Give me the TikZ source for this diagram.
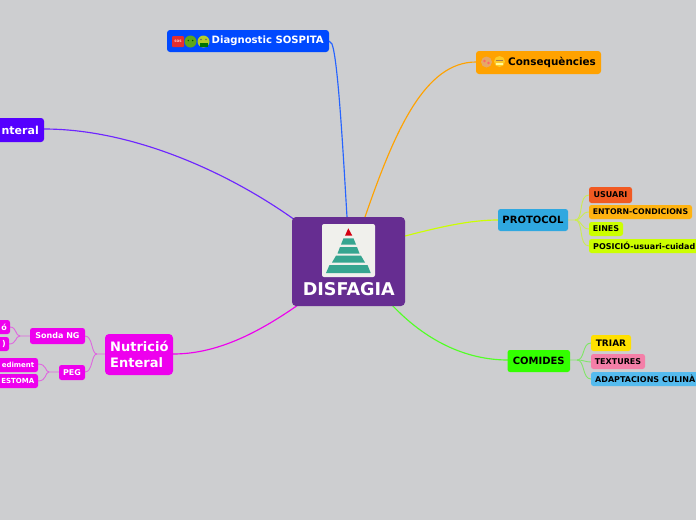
\documentclass[tikz,border=0pt]{standalone}
\usepackage{fontspec}
\setmainfont{DejaVu Sans}
\definecolor{bg}{HTML}{CDCED0}
\definecolor{purp}{HTML}{662D91}
\definecolor{diag}{HTML}{0049FF}
\definecolor{cons}{HTML}{FFA200}
\definecolor{viol}{HTML}{5500FF}
\definecolor{prot}{HTML}{2FA8E0}
\definecolor{lime}{HTML}{CCFF00}
\definecolor{grn}{HTML}{33FF00}
\definecolor{mag}{HTML}{EE00EE}
\definecolor{usu}{HTML}{F15A22}
\definecolor{ento}{HTML}{FFB310}
\definecolor{tria}{HTML}{FFE000}
\definecolor{text}{HTML}{F47FA8}
\definecolor{adap}{HTML}{55BBEE}
\definecolor{teal}{HTML}{36A590}
\definecolor{paper}{HTML}{F0F0EC}
\tikzset{
 x=1pt,y=-1pt,
 link/.style={line width=1.15pt},
 sublime/.style={line width=.9pt,draw=lime!60!bg},
 subgrn/.style={line width=.9pt,draw=grn!50!bg},
 submag/.style={line width=.9pt,draw=mag!50!bg},
}
\newcommand{\bxn}[7]{% name, left, top, right, bottom, colour, text
 \path[fill=#6,rounded corners=2.5pt] (#2,#3) rectangle (#4,#5);
 \node[inner sep=0pt] (#1) at ({(#2+#4)/2},{(#3+#5)/2}) {#7};
}
\begin{document}
\begin{tikzpicture}
\useasboundingbox (0,0) rectangle (696,520);
\clip (0,0) rectangle (696,520);
\fill[bg] (0,0) rectangle (696,520);
% anchors
\coordinate (cT1) at (347,217);
\coordinate (cT2) at (365,217);
\coordinate (cL) at (295,220);
\coordinate (cR) at (405,236);
\coordinate (cBR) at (392,305);
\coordinate (cBL) at (298,305);
\coordinate (dE) at (329,41);
\coordinate (coE) at (476,62);
\coordinate (pE) at (44,129);
\coordinate (prE) at (498,220);
\coordinate (coM) at (508,360);
\coordinate (nE) at (173,354);
% main links
\draw[link,diag!85!white] (cT1) .. controls (343,150) and (338,60) .. (332,44) -- (dE);
\draw[link,cons] (cT2) .. controls (395,130) and (425,62) .. (coE);
\draw[link,viol!85!white] (cL) .. controls (225,170) and (130,129) .. (pE);
\draw[link,lime] (cR) .. controls (440,227) and (470,220) .. (prE);
\draw[link,grn!85!white] (cBR) .. controls (425,340) and (465,360) .. (coM);
\draw[link,mag] (cBL) .. controls (255,335) and (215,354) .. (nE);
% protocol subs
\coordinate (pR) at (568,220);
\coordinate (pJ) at (575,220);
\draw[sublime] (pR) -- (pJ) .. controls (584,220) and (578,195) .. (589,195);
\draw[sublime] (pJ) .. controls (582,220) and (581,212) .. (589,212);
\draw[sublime] (pJ) .. controls (582,220) and (581,229) .. (589,229);
\draw[sublime] (pJ) .. controls (584,220) and (578,246) .. (589,246);
% comides subs
\coordinate (cR2) at (570,360);
\coordinate (cJ) at (577,360);
\draw[subgrn] (cR2) -- (cJ) .. controls (585,360) and (582,343) .. (591,343);
\draw[subgrn] (cJ) .. controls (584,360) and (585,362) .. (591,362);
\draw[subgrn] (cJ) .. controls (585,360) and (582,379) .. (591,379);
% nutricio subs
\draw[submag] (105,354) -- (97,354) .. controls (91,354) and (93,336) .. (85,336);
\draw[submag] (97,354) .. controls (91,354) and (93,372) .. (85,372);
\draw[submag] (30,336) -- (20,336) .. controls (15,336) and (17,327) .. (10,327);
\draw[submag] (20,336) .. controls (15,336) and (17,344) .. (9,344);
\draw[submag] (59,372) -- (49,372) .. controls (45,372) and (47,364) .. (38,364);
\draw[submag] (49,372) .. controls (45,372) and (47,381) .. (38,381);
% central
\path[fill=purp,rounded corners=4pt] (292,217) rectangle (405,306);
\node[inner sep=0pt,text=white,font=\bfseries\fontsize{17.6}{20}\selectfont] (core) at (348.8,289) {DISFAGIA};
\path[fill=paper,rounded corners=2pt] (322,224) rectangle (375,277);
\fill[red!70!purple!90!black] (348.3,228.3) -- (352.3,235.7) -- (345,235.7) -- cycle;
\fill[teal] (343.5,238.3) -- (353.5,238.3) -- (356,244.5) -- (341,244.5) -- cycle;
\fill[teal] (340,247) -- (357,247) -- (359.5,253.5) -- (337.5,253.5) -- cycle;
\fill[teal] (336,255.7) -- (361,255.7) -- (365,262.5) -- (332,262.5) -- cycle;
\fill[teal] (329.5,265) -- (367.5,265) -- (370.7,273) -- (326,273) -- cycle;
% first level
\path[fill=diag,rounded corners=3pt] (167,30) rectangle (329,52);
\node[inner sep=0pt,text=white,font=\bfseries\fontsize{10.1}{12}\selectfont,anchor=west] (diagn) at (211.5,41) {Diagnostic SOSPITA};
\path[fill=red!80!white!90!black,rounded corners=1pt] (172,36) rectangle (184,47);
\node[inner sep=0pt,text=white!85!red,font=\bfseries\fontsize{3.2}{4}\selectfont] (sos) at (178,41.5) {SOS};
\fill[green!45!black!70!yellow!90!white] (190.5,41.5) circle (6);
\fill[green!35!black] (188.3,40.5) circle (.8) (192.7,40.5) circle (.8);
\fill[yellow!75!green!90!black] (203.5,41.5) circle (6);
\fill[green!45!black] (199.5,43) rectangle (207.5,46.5);
\fill[black!60] (201,39.5) circle (.8) (206,39.5) circle (.8);
\path[fill=cons,rounded corners=3pt] (476,51) rectangle (601,74);
\node[inner sep=0pt,text=black,font=\bfseries\fontsize{10.4}{12}\selectfont,anchor=west] (conse) at (508,62.5) {Consequències};
\fill[orange!55!white!90!black] (486.5,62) circle (5.5);
\fill[red!60!white] (484.5,61) circle (1.3) (488.5,63) circle (1.3);
\fill[yellow!55!orange!85!white] (499.5,61.5) circle (5.5);
\fill[orange!50!black!70!white] (496,59.5) rectangle (503,60.3);
\fill[white!60!yellow] (496,62.5) rectangle (503,65);
\path[fill=viol,rounded corners=3pt] (-30,118) rectangle (44,142);
\node[inner sep=0pt,text=white,font=\bfseries\fontsize{11}{13}\selectfont,anchor=east] (parent) at (39,130) {nteral};
\bxn{protocol}{498}{209}{568}{231}{prot}{\bfseries\fontsize{10}{12}\selectfont PROTOCOL}
\bxn{comides}{507.5}{350}{570}{372}{grn}{\bfseries\fontsize{10}{12}\selectfont COMIDES}
\path[fill=mag,rounded corners=4pt] (105,334) rectangle (173,375);
\node[inner sep=0pt,text=white,font=\bfseries\fontsize{13}{15.5}\selectfont,align=left,anchor=west] (nutri) at (110,354.5) {Nutrició\\Enteral};
% second level
\newcommand{\smf}{\bfseries\fontsize{8}{9}\selectfont}
\newcommand{\smg}{\bfseries\fontsize{7}{9}\selectfont}
\bxn{usu}{589}{187}{632}{203}{usu}{\smf USUARI}
\bxn{ent}{589}{205}{692}{219}{ento}{\bfseries\fontsize{7.8}{9}\selectfont ENTORN-CONDICIONS}
\bxn{ein}{589}{222}{623}{236}{lime}{\smf EINES}
\path[fill=lime,rounded corners=2.5pt] (589,239) rectangle (720,253);
\node[inner sep=0pt,anchor=west,font=\smf] (pos) at (593,246) {POSICIÓ-usuari-cuidad};
\bxn{tri}{591}{335}{631}{351}{tria}{\bfseries\fontsize{9}{10}\selectfont TRIAR}
\bxn{tex}{591}{354}{645}{369}{text}{\smf TEXTURES}
\path[fill=adap,rounded corners=2.5pt] (591,372) rectangle (720,386);
\node[inner sep=0pt,anchor=west,font=\smf] (ada) at (595,379) {ADAPTACIONS CULINÀ};
\bxn{sonda}{30}{328}{85}{344}{mag}{\color{white}\smf Sonda NG}
\bxn{peg}{59}{365}{85}{380}{mag}{\color{white}\smf PEG}
\path[fill=mag,rounded corners=2.5pt] (-40,320) rectangle (10,334);
\node[inner sep=0pt,anchor=east,text=white,font=\smf] (l1) at (7,327) {ó};
\path[fill=mag,rounded corners=2.5pt] (-40,337) rectangle (9,351);
\node[inner sep=0pt,anchor=east,text=white,font=\smf] (l2) at (6,344) {)};
\path[fill=mag,rounded corners=2.5pt] (-40,358) rectangle (38,372);
\node[inner sep=0pt,anchor=east,text=white,font=\smg] (l3) at (34.5,365) {ediment};
\path[fill=mag,rounded corners=2.5pt] (-40,374) rectangle (38,388);
\node[inner sep=0pt,anchor=east,text=white,font=\smg] (l4) at (34.5,381) {ESTOMA};
\end{tikzpicture}
\end{document}
